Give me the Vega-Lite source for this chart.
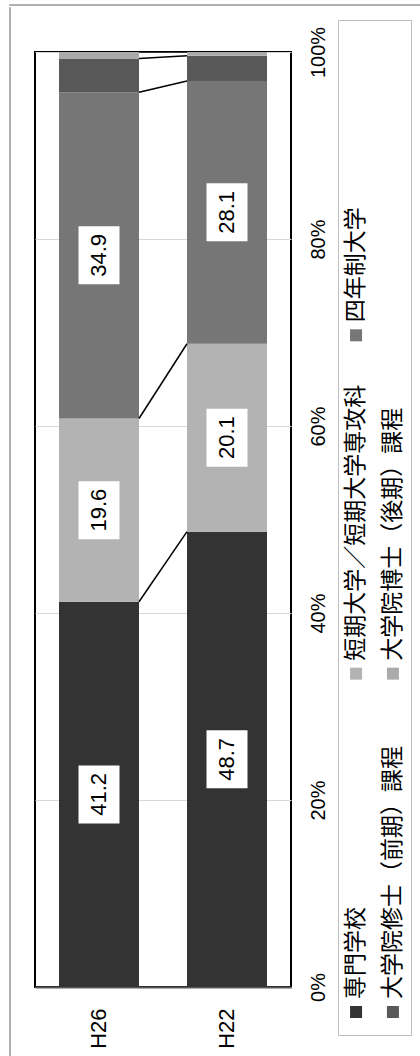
{
  "$schema": "https://vega.github.io/schema/vega-lite/v6.json",
  "padding": {"top": 3, "left": 8, "right": 0, "bottom": 0},
  "background": "white",
  "config": {
    "view": {"stroke": null},
    "font": "Liberation Sans"
  },
  "datasets": {
    "shares": [
      {"year": "H26", "cat": "専門学校", "value": 41.2, "order": 1},
      {"year": "H26", "cat": "短期大学／短期大学専攻科", "value": 19.6, "order": 2},
      {"year": "H26", "cat": "四年制大学", "value": 34.9, "order": 3},
      {"year": "H26", "cat": "大学院修士（前期）課程", "value": 3.6, "order": 4},
      {"year": "H26", "cat": "大学院博士（後期）課程", "value": 0.7, "order": 5},
      {"year": "H22", "cat": "専門学校", "value": 48.7, "order": 1},
      {"year": "H22", "cat": "短期大学／短期大学専攻科", "value": 20.1, "order": 2},
      {"year": "H22", "cat": "四年制大学", "value": 28.1, "order": 3},
      {"year": "H22", "cat": "大学院修士（前期）課程", "value": 2.7, "order": 4},
      {"year": "H22", "cat": "大学院博士（後期）課程", "value": 0.4, "order": 5}
    ],
    "legendItems": [
      {"cat": "専門学校", "col": 1, "slot": 0},
      {"cat": "短期大学／短期大学専攻科", "col": 1, "slot": 1},
      {"cat": "四年制大学", "col": 1, "slot": 2},
      {"cat": "大学院修士（前期）課程", "col": 2, "slot": 0},
      {"cat": "大学院博士（後期）課程", "col": 2, "slot": 1}
    ]
  },
  "spacing": 0,
  "vconcat": [
    {
      "width": 412,
      "height": 1,
      "view": {"stroke": "#b0b0b0", "strokeWidth": 1},
      "data": {"values": []},
      "mark": "point",
      "encoding": {}
    },
    {
      "spacing": 23,
      "hconcat": [
        {
          "width": 1,
          "height": 1050,
          "view": {"stroke": "#b0b0b0", "strokeWidth": 1},
          "data": {"values": []},
          "mark": "point",
          "encoding": {}
        },
        {
          "spacing": 8,
          "hconcat": [
            {
              "spacing": 0,
              "bounds": "flush",
              "vconcat": [
                {
                  "width": 1,
                  "height": 45,
                  "data": {"values": []},
                  "mark": "point",
                  "encoding": {}
                },
                {
                  "width": 256,
                  "height": 935,
                  "view": {"stroke": "black", "strokeWidth": 2, "fill": "white"},
                  "data": {"name": "shares"},
                  "encoding": {
                    "x": {
                      "field": "year",
                      "type": "nominal",
                      "scale": {"domain": ["H26", "H22"], "paddingInner": 0.375, "paddingOuter": 0.1875},
                      "axis": {
                        "title": null,
                        "orient": "bottom",
                        "labelAngle": 270,
                        "labelAlign": "right",
                        "labelBaseline": "middle",
                        "labelPadding": 21,
                        "labelFontSize": 22,
                        "labelFont": "Liberation Sans",
                        "labelColor": "black",
                        "ticks": false,
                        "domain": true,
                        "domainColor": "#595959",
                        "domainWidth": 2
                      }
                    }
                  },
                  "layer": [
                    {
                      "mark": {"type": "bar"},
                      "encoding": {
                        "y": {
                          "field": "value",
                          "type": "quantitative",
                          "stack": "zero",
                          "scale": {"domain": [0, 100], "nice": false},
                          "axis": {
                            "title": null,
                            "orient": "right",
                            "values": [0, 20, 40, 60, 80, 100],
                            "labelExpr": "datum.value + '%'",
                            "labelAngle": 270,
                            "labelAlign": "center",
                            "labelBaseline": "top",
                            "labelPadding": 17,
                            "labelFontSize": 20,
                            "labelFont": "Liberation Sans",
                            "labelColor": "black",
                            "ticks": false,
                            "domain": false,
                            "grid": true,
                            "gridColor": "#d9d9d9",
                            "gridWidth": 1
                          }
                        },
                        "color": {
                          "field": "cat",
                          "type": "nominal",
                          "scale": {
                            "domain": ["専門学校", "短期大学／短期大学専攻科", "四年制大学", "大学院修士（前期）課程", "大学院博士（後期）課程"],
                            "range": ["#333333", "#b3b3b3", "#767676", "#595959", "#ababab"]
                          },
                          "legend": null
                        },
                        "order": {"field": "order", "type": "quantitative"}
                      }
                    },
                    {
                      "transform": [
                        {"stack": "value", "groupby": ["year"], "sort": [{"field": "order", "order": "ascending"}], "as": ["v0", "v1"]},
                        {"pivot": "year", "value": "v1", "groupby": ["cat"]}
                      ],
                      "mark": {"type": "rule", "color": "black", "strokeWidth": 1.5},
                      "encoding": {
                        "x": {"datum": "H26", "type": "nominal", "bandPosition": 1},
                        "x2": {"datum": "H22", "bandPosition": 0},
                        "y": {"field": "H26", "type": "quantitative"},
                        "y2": {"field": "H22"}
                      }
                    },
                    {
                      "mark": {
                        "type": "point",
                        "shape": "M-0.707,-1H0.707V1H-0.707Z",
                        "size": 3364,
                        "filled": true,
                        "fill": "white",
                        "strokeWidth": 0
                      },
                      "encoding": {
                        "y": {"field": "value", "type": "quantitative", "stack": "zero", "bandPosition": 0.5},
                        "detail": {"field": "cat"},
                        "order": {"field": "order", "type": "quantitative"},
                        "opacity": {"condition": {"test": "datum.value > 5", "value": 1}, "value": 0}
                      }
                    },
                    {
                      "mark": {
                        "type": "text",
                        "angle": 270,
                        "align": "center",
                        "baseline": "middle",
                        "fontSize": 22,
                        "font": "Liberation Sans",
                        "color": "black"
                      },
                      "encoding": {
                        "y": {"field": "value", "type": "quantitative", "stack": "zero", "bandPosition": 0.5},
                        "detail": {"field": "cat"},
                        "order": {"field": "order", "type": "quantitative"},
                        "text": {"condition": {"test": "datum.value > 5", "field": "value", "type": "quantitative", "format": ".1f"}, "value": ""}
                      }
                    }
                  ]
                }
              ]
            },
            {
              "spacing": 0,
              "bounds": "flush",
              "vconcat": [
                {
                  "width": 1,
                  "height": 13,
                  "data": {"values": []},
                  "mark": "point",
                  "encoding": {}
                },
                {
                  "width": 73,
                  "height": 1015,
                  "view": {"stroke": "#bfbfbf", "strokeWidth": 1, "fill": "white"},
                  "data": {"name": "legendItems"},
                  "encoding": {
                    "x": {"field": "col", "type": "ordinal", "scale": {"type": "point", "padding": 0.49}, "axis": null},
                    "y": {"field": "slot", "type": "ordinal", "scale": {"type": "point", "domain": [2, 1, 0], "padding": 0.5, "align": 0.932}, "axis": null}
                  },
                  "layer": [
                    {
                      "mark": {"type": "point", "shape": "square", "filled": true, "size": 144, "opacity": 1},
                      "encoding": {
                        "color": {
                          "field": "cat",
                          "type": "nominal",
                          "scale": {
                            "domain": ["専門学校", "短期大学／短期大学専攻科", "四年制大学", "大学院修士（前期）課程", "大学院博士（後期）課程"],
                            "range": ["#333333", "#b3b3b3", "#767676", "#595959", "#ababab"]
                          },
                          "legend": null
                        }
                      }
                    },
                    {
                      "mark": {
                        "type": "text",
                        "angle": 270,
                        "align": "left",
                        "baseline": "middle",
                        "dx": 13,
                        "fontSize": 23,
                        "font": "Noto Sans CJK JP",
                        "color": "black"
                      },
                      "encoding": {"text": {"field": "cat"}}
                    }
                  ]
                }
              ]
            }
          ]
        }
      ]
    }
  ]
}
